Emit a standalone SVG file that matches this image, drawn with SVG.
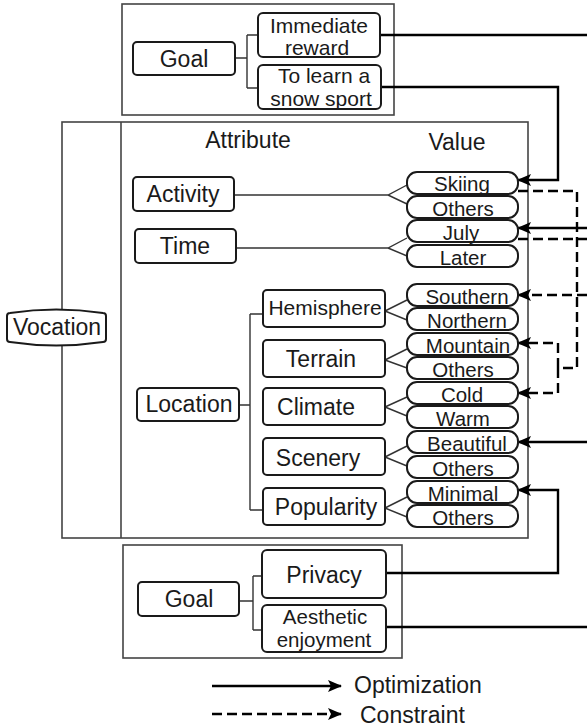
<svg xmlns="http://www.w3.org/2000/svg" width="587" height="727" viewBox="0 0 587 727">
<style>
  text { font-family: "Liberation Sans", Arial, sans-serif; fill: #1a1a1a; text-anchor: middle; }
  .t { font-size: 23px; }
  .s { font-size: 21px; }
  .a { font-size: 20.5px; }
  .v { font-size: 20.5px; }
  .node { fill: #fff; stroke: #1a1a1a; stroke-width: 2; }
  .frame { fill: none; stroke: #444; stroke-width: 1.6; }
  .link { fill: none; stroke: #333; stroke-width: 1.4; }
  .opt { fill: none; stroke: #000; stroke-width: 2.4; }
  .con { fill: none; stroke: #000; stroke-width: 2.4; stroke-dasharray: 10 5; }
</style>
<defs>
  <marker id="ah" viewBox="0 0 14 12" refX="13" refY="6" markerWidth="14" markerHeight="12" markerUnits="userSpaceOnUse" orient="auto">
    <path d="M0,0 L14,6 L0,12 L3,6 Z" fill="#000"/>
  </marker>
</defs>
<rect width="587" height="727" fill="#fff"/>

<!-- frames -->
<g id="frames">
  <rect class="frame" x="122" y="4" width="272" height="111"/>
  <rect class="frame" x="62" y="122" width="466" height="416"/>
  <line class="frame" x1="121" y1="122" x2="121" y2="538"/>
  <rect class="frame" x="123" y="545" width="279" height="113"/>
</g>

<!-- internal connectors -->
<g id="connectors">
  <path class="link" d="M235,58 H247 M247,35 V88 M247,35 H258 M247,88 H258"/>
  <path class="link" d="M234,195 H388 L407,185 M388,195 L407,204"/>
  <path class="link" d="M236,248 H388 L407,238 M388,248 L407,256"/>
  <path class="link" d="M239,405 H250 M250,314 V510 M250,314 H263 M250,510 H263"/>
  <path class="link" d="M385,311 L407,300 M385,311 L407,320"/>
  <path class="link" d="M385,360 L407,349 M385,360 L407,368"/>
  <path class="link" d="M385,407 L407,397 M385,407 L407,416"/>
  <path class="link" d="M385,457 L407,446 M385,457 L407,466"/>
  <path class="link" d="M385,508 L407,497 M385,508 L407,517"/>
  <path class="link" d="M239,601 H253 M253,576 V630 M253,576 H262 M253,630 H262"/>

  <!-- optimization -->
  <path class="opt" d="M380,35 H587"/>
  <path class="opt" d="M381,87 H558 V180 H518" marker-end="url(#ah)"/>
  <path class="opt" d="M587,228 H518" marker-end="url(#ah)"/>
  <path class="opt" d="M587,442 H518" marker-end="url(#ah)"/>
  <path class="opt" d="M386,573 H558 V490 H518" marker-end="url(#ah)"/>
  <path class="opt" d="M386,627 H587"/>

  <!-- constraints -->
  <path class="con" d="M518,191 H577 V368 H558"/>
  <path class="con" d="M558,368 V343 H518" marker-end="url(#ah)"/>
  <path class="con" d="M558,368 V393 H518" marker-end="url(#ah)"/>
  <path class="con" d="M518,239 H587"/>
  <path class="con" d="M587,295 H518" marker-end="url(#ah)"/>

  <!-- legend -->
  <path class="opt" d="M212,686 H341" marker-end="url(#ah)"/>
  <path class="con" d="M212,714 H341" marker-end="url(#ah)"/>
</g>

<!-- nodes -->
<g id="goal-top"><rect class="node" x="133" y="42" width="102" height="33" rx="4"/><text class="t" x="184" y="67">Goal</text></g>
<g id="immediate-reward"><rect class="node" x="258" y="13" width="122" height="44" rx="5"/><text class="s" x="319" y="33">Immediate</text><text class="s" x="317" y="55">reward</text></g>
<g id="learn-snow-sport"><rect class="node" x="258" y="65" width="123" height="44" rx="5"/><text class="s" x="324" y="83">To learn a</text><text class="s" x="321" y="106">snow sport</text></g>

<g id="vocation"><path class="node" d="M7,316 Q7,313 10,313 Q56,306 103,313 Q106,313 106,316 V339 Q106,342 103,342 Q56,349 10,342 Q7,342 7,339 Z"/><text class="t" x="57" y="335">Vocation</text></g>

<g id="headers"><text class="t" x="248" y="148">Attribute</text><text class="t" x="457" y="150">Value</text></g>

<g id="activity"><rect class="node" x="133" y="177" width="101" height="34" rx="4"/><text class="t" x="183" y="202">Activity</text></g>
<g id="time"><rect class="node" x="135" y="229" width="101" height="34" rx="4"/><text class="t" x="185" y="254">Time</text></g>
<g id="location"><rect class="node" x="137" y="388" width="102" height="33" rx="4"/><text class="t" x="189" y="412">Location</text></g>

<g id="hemisphere"><rect class="node" x="263" y="290" width="122" height="37" rx="4"/><text class="s" x="325" y="315">Hemisphere</text></g>
<g id="terrain"><rect class="node" x="263" y="340" width="122" height="37" rx="4"/><text class="t" x="321" y="367">Terrain</text></g>
<g id="climate"><rect class="node" x="263" y="388" width="122" height="37" rx="4"/><text class="t" x="316" y="415">Climate</text></g>
<g id="scenery"><rect class="node" x="263" y="438" width="122" height="37" rx="4"/><text class="t" x="318" y="466">Scenery</text></g>
<g id="popularity"><rect class="node" x="263" y="488" width="122" height="37" rx="4"/><text class="t" x="326" y="515">Popularity</text></g>

<g id="v-skiing"><rect class="node" x="407" y="172" width="111" height="22" rx="10"/><text class="v" x="462" y="191">Skiing</text></g>
<g id="v-others1"><rect class="node" x="407" y="196" width="111" height="22" rx="10"/><text class="v" x="463" y="215.5">Others</text></g>
<g id="v-july"><rect class="node" x="407" y="220" width="111" height="22" rx="10"/><text class="v" x="461" y="239.5">July</text></g>
<g id="v-later"><rect class="node" x="407" y="245" width="111" height="22" rx="10"/><text class="v" x="463" y="264.5">Later</text></g>
<g id="v-southern"><rect class="node" x="407" y="284" width="111" height="22" rx="10"/><text class="v" x="467" y="303.5">Southern</text></g>
<g id="v-northern"><rect class="node" x="407" y="308" width="111" height="22" rx="10"/><text class="v" x="467" y="327.5">Northern</text></g>
<g id="v-mountain"><rect class="node" x="407" y="333" width="111" height="22" rx="10"/><text class="v" x="468" y="352.5">Mountain</text></g>
<g id="v-others2"><rect class="node" x="407" y="357" width="111" height="22" rx="10"/><text class="v" x="463" y="376.5">Others</text></g>
<g id="v-cold"><rect class="node" x="407" y="382" width="111" height="22" rx="10"/><text class="v" x="462" y="401.5">Cold</text></g>
<g id="v-warm"><rect class="node" x="407" y="406" width="111" height="22" rx="10"/><text class="v" x="463" y="425.5">Warm</text></g>
<g id="v-beautiful"><rect class="node" x="407" y="431" width="111" height="22" rx="10"/><text class="v" x="467" y="450.5">Beautiful</text></g>
<g id="v-others3"><rect class="node" x="407" y="456" width="111" height="22" rx="10"/><text class="v" x="463" y="475.5">Others</text></g>
<g id="v-minimal"><rect class="node" x="407" y="481" width="111" height="22" rx="10"/><text class="v" x="463" y="500.5">Minimal</text></g>
<g id="v-others4"><rect class="node" x="407" y="505" width="111" height="22" rx="10"/><text class="v" x="463" y="524.5">Others</text></g>

<g id="goal-bottom"><rect class="node" x="138" y="582" width="101" height="34" rx="4"/><text class="t" x="189" y="607">Goal</text></g>
<g id="privacy"><rect class="node" x="262" y="550" width="124" height="48" rx="5"/><text class="t" x="324" y="583">Privacy</text></g>
<g id="aesthetic"><rect class="node" x="262" y="605" width="124" height="47" rx="5"/><text class="a" x="325" y="624">Aesthetic</text><text class="a" x="324" y="647">enjoyment</text></g>

<g id="legend"><text class="t" x="354" y="693" style="text-anchor:start">Optimization</text><text class="t" x="360" y="723" style="text-anchor:start">Constraint</text></g>
</svg>
